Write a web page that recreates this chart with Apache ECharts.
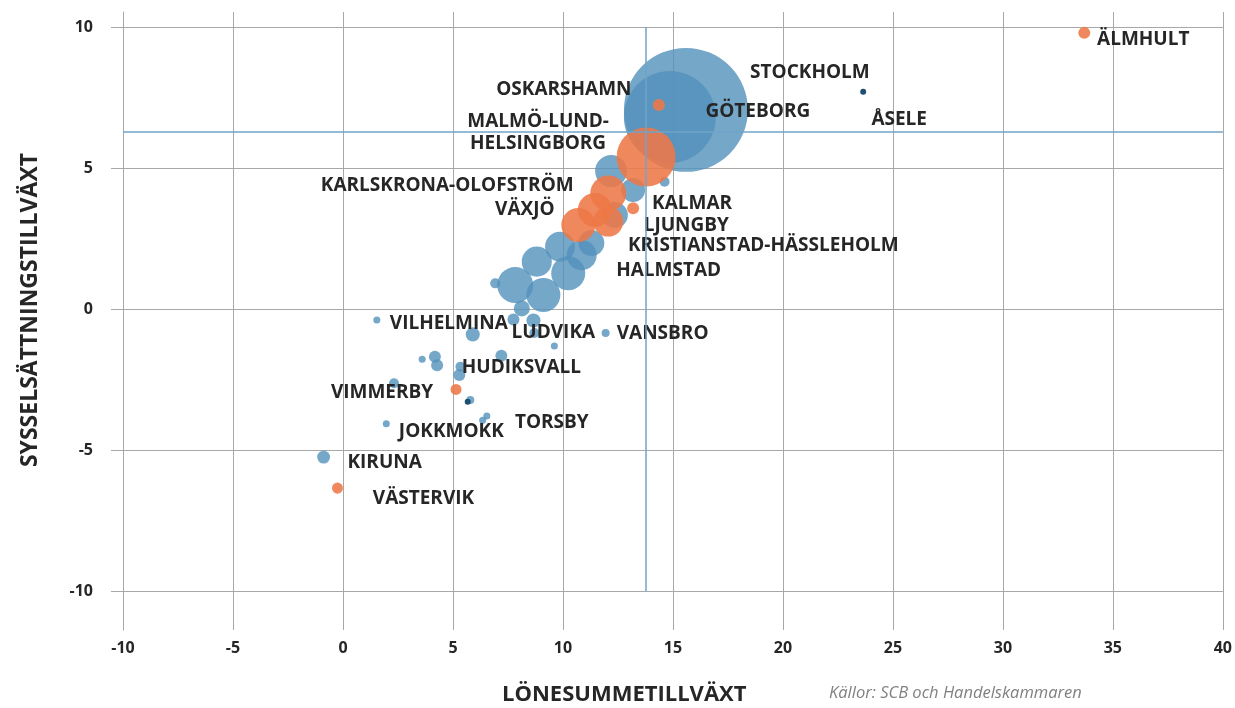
<!DOCTYPE html>
<html><head><meta charset="utf-8">
<script src="https://cdn.jsdelivr.net/npm/echarts@6/dist/echarts.min.js"></script>
<style>html,body{margin:0;padding:0;background:#fff}#c{width:1235px;height:708px}</style>
</head><body><div id="c"></div>
<script>
// Axis ticks
const xTicks = [-10, -5, 0, 5, 10, 15, 20, 25, 30, 35, 40];
const yTicks = [-10, -5, 0, 5, 10];
// [namn, lönesummetillväxt, sysselsättningstillväxt, befolkning (tusental, uppskattad)]
const blueRegions = [
  ['Stockholm', 15.59, 7.06, 2400],
  ['Göteborg', 14.86, 6.81, 1320],
  ['', 12.19, 4.89, 160],
  ['', 13.19, 4.22, 90],
  ['', 14.62, 4.51, 15.6],
  ['', 12.36, 3.33, 106],
  ['', 11.29, 2.34, 106],
  ['', 9.87, 2.21, 141],
  ['Halmstad', 10.85, 1.91, 141],
  ['', 8.81, 1.68, 141],
  ['', 10.24, 1.27, 181],
  ['', 7.83, 0.85, 202],
  ['', 9.11, 0.50, 181],
  ['', 6.92, 0.91, 15.6],
  ['', 8.13, 0.02, 40],
  ['', 7.75, -0.37, 22.5],
  ['', 8.66, -0.41, 31],
  ['Ludvika', 8.70, -0.85, 15.6],
  ['', 5.90, -0.90, 31],
  ['Vilhelmina', 1.54, -0.39, 7.7],
  ['Vansbro', 11.94, -0.85, 10],
  ['', 9.61, -1.31, 7.7],
  ['', 3.60, -1.78, 7.7],
  ['', 4.18, -1.69, 22.5],
  ['', 4.28, -1.99, 22.5],
  ['', 7.20, -1.66, 22.5],
  ['Hudiksvall', 5.34, -2.05, 15.6],
  ['', 5.29, -2.34, 22.5],
  ['', 2.32, -2.63, 15.6],
  ['', 5.79, -3.23, 10],
  ['Torsby', 6.54, -3.79, 7.7],
  ['', 6.35, -3.94, 7.7],
  ['Jokkmokk', 1.97, -4.07, 7.7],
  ['Kiruna', -0.88, -5.25, 26]
];
const darkRegions = [
  ['Åsele', 23.65, 7.70, 5.6],
  ['', 5.67, -3.29, 5.6]
];
const orangeRegions = [
  ['Malmö-Lund-\nHelsingborg', 13.78, 5.39, 544],
  ['Oskarshamn', 14.36, 7.23, 22.5],
  ['Kalmar', 13.19, 3.57, 22.5],
  ['Karlskrona-Olofström', 12.06, 4.10, 202],
  ['Växjö', 11.45, 3.51, 181],
  ['Ljungby', 12.06, 3.10, 141],
  ['Kristianstad-Hässleholm', 10.70, 2.98, 181],
  ['Vimmerby', 5.14, -2.85, 19],
  ['Älmhult', 33.70, 9.79, 22.5],
  ['Västervik', -0.25, -6.35, 19]
];
// Riksgenomsnitt
const meanWage = 13.77;
const meanEmployment = 6.3;

// label offsets (px, from bubble centre to label centre)
const labelOffsets = {
  'Stockholm': [124, -37], 'Göteborg': [88, -5], 'Åsele': [36, 28], 'Älmhult': [59, 7],
  'Oskarshamn': [-95, -15], 'Malmö-Lund-\nHelsingborg': [-108, -24],
  'Karlskrona-Olofström': [-161, -8], 'Växjö': [-70, 0], 'Kalmar': [59, -5],
  'Ljungby': [78, 4], 'Kristianstad-Hässleholm': [185, 21], 'Halmstad': [87, 15],
  'Vilhelmina': [72, 4], 'Ludvika': [19, 0], 'Vansbro': [57, 1], 'Hudiksvall': [61, 1],
  'Vimmerby': [-74, 3], 'Torsby': [65, 7], 'Jokkmokk': [65, 8], 'Kiruna': [61, 5],
  'Västervik': [86, 10]
};

const FONT = "'Open Sans', sans-serif";
const TXT = '#262626';
function toItems(arr) {
  return arr.map(r => {
    const off = labelOffsets[r[0]];
    return {
      name: r[0], value: [r[1], r[2], r[3]],
      label: off ? { show: true, offset: off, formatter: r[0].toUpperCase() } : { show: false }
    };
  });
}
const sizeFn = v => Math.sqrt(v[2]) * 2.53;
const labelStyle = {
  position: 'inside', color: TXT, fontFamily: FONT, fontWeight: 'bold',
  fontSize: 19, lineHeight: 22, align: 'center', opacity: 1,
  textBorderColor: 'transparent', textBorderWidth: 0
};

const chart = echarts.init(document.getElementById('c'), null, { renderer: 'canvas' });
chart.setOption({
  animation: false,
  backgroundColor: '#fff',
  grid: { left: 123, right: 8, top: 12, bottom: 78, containLabel: false },
  xAxis: {
    type: 'value', min: xTicks[0], max: xTicks[xTicks.length - 1], interval: 5,
    axisLine: { show: false, onZero: false }, axisTick: { show: false },
    axisLabel: { margin: 10, color: TXT, fontFamily: FONT, fontWeight: 'bold', fontSize: 16 },
    splitLine: { show: true, lineStyle: { color: '#a8a8a8', width: 1 } }
  },
  yAxis: {
    type: 'value', min: -11.38, max: 10.53,
    axisLine: { show: true, onZero: false, lineStyle: { color: '#a8a8a8' } },
    axisTick: { show: true, length: 12, customValues: yTicks, lineStyle: { color: '#a8a8a8' } },
    axisLabel: { customValues: yTicks, margin: 30, color: TXT, fontFamily: FONT, fontWeight: 'bold', fontSize: 16 },
    splitLine: { show: true, lineStyle: { color: '#a8a8a8', width: 1 } }
  },
  graphic: [
    { type: 'text', x: 30, y: 310, rotation: Math.PI / 2,
      style: { text: 'SYSSELSÄTTNINGSTILLVÄXT', fill: TXT, font: "bold 23px 'Open Sans', sans-serif", align: 'center', verticalAlign: 'middle' } },
    { type: 'text', left: 502, top: 684, style: { text: 'LÖNESUMMETILLVÄXT', fill: TXT, font: "bold 22px 'Open Sans', sans-serif" } },
    { type: 'text', left: 829, top: 685, style: { text: 'Källor: SCB och Handelskammaren', fill: '#808080', font: "italic 16.5px 'Open Sans', sans-serif" } }
  ],
  series: [
    {
      type: 'scatter', data: [], z: 1, silent: true,
      markLine: {
        silent: true, symbol: 'none', label: { show: false },
        lineStyle: { color: '#6fa5c9', width: 1.5, type: 'solid' },
        data: [
          { yAxis: meanEmployment },
          [{ coord: [meanWage, yTicks[yTicks.length - 1]] }, { coord: [meanWage, yTicks[0]] }]
        ]
      }
    },
    {
      type: 'scatter', z: 2, data: toItems(blueRegions), symbolSize: sizeFn,
      itemStyle: { color: 'rgb(82,145,188)', opacity: 0.8 }, label: labelStyle,
      emphasis: { disabled: true }
    },
    {
      type: 'scatter', z: 2, data: toItems(darkRegions), symbolSize: sizeFn,
      itemStyle: { color: '#1f4f6e', opacity: 1 }, label: labelStyle, emphasis: { disabled: true }
    },
    {
      type: 'scatter', z: 2, data: toItems(orangeRegions), symbolSize: sizeFn,
      itemStyle: { color: '#ee7747', opacity: 0.88 }, label: labelStyle,
      emphasis: { disabled: true }
    }
  ]
});
</script></body></html>
